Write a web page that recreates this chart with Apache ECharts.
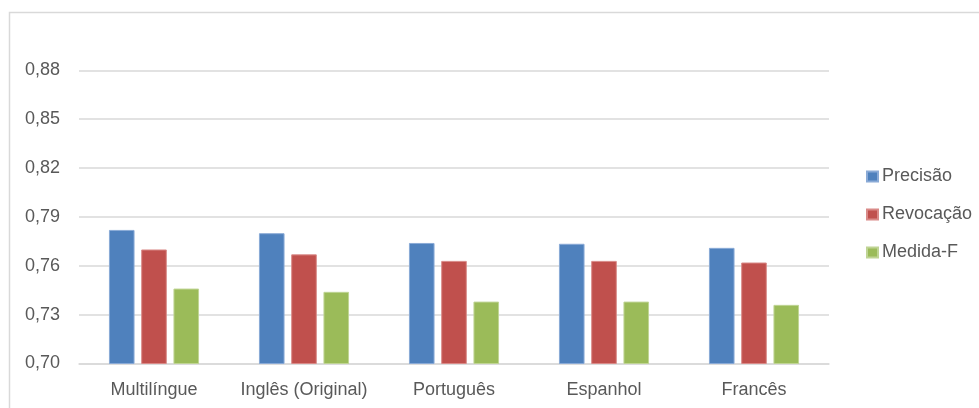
<!DOCTYPE html>
<html>
<head>
<meta charset="utf-8">
<style>
  html, body { margin: 0; padding: 0; background: #ffffff; }
  #chart { width: 979px; height: 408px; }
</style>
<script src="https://cdn.jsdelivr.net/npm/echarts@6/dist/echarts.min.js"></script>
</head>
<body>
<div id="chart"></div>
<script>
// Idiomas avaliados e métricas de cada um
const categories = ['Multilíngue', 'Inglês (Original)', 'Português', 'Espanhol', 'Francês'];
const precisao  = [0.782, 0.780, 0.774, 0.7735, 0.771];
const revocacao = [0.770, 0.767, 0.763, 0.763, 0.762];
const medidaF   = [0.746, 0.744, 0.738, 0.738, 0.736];
const seriesNames = ['Precisão', 'Revocação', 'Medida-F'];

const FONT = "'Liberation Sans', Arial, sans-serif";
const TEXT = '#595959';
const GRID = '#d9d9d9';

const chart = echarts.init(document.getElementById('chart'), null, { renderer: 'canvas' });

function bar(name, data, color, edge) {
  return {
    name: name,
    type: 'bar',
    data: data,
    barWidth: 25.6,
    barGap: '26%',
    itemStyle: { color: color, borderColor: edge, borderWidth: 1 },
    emphasis: { disabled: true }
  };
}

chart.setOption({
  animation: false,
  backgroundColor: '#ffffff',
  textStyle: { fontFamily: FONT },
  graphic: [{
    type: 'rect',
    silent: true,
    shape: { x: 9.5, y: 12.5, width: 1000, height: 500 },
    style: { fill: 'none', stroke: GRID, lineWidth: 1.5 }
  }],
  grid: { left: 79, right: 150, top: 70.3, bottom: 44.5, containLabel: false },
  legend: {
    orient: 'vertical',
    left: 866,
    top: 167.5,
    padding: 0,
    itemWidth: 11,
    itemHeight: 10,
    itemGap: 20,
    icon: 'rect',
    data: seriesNames,
    textStyle: { color: TEXT, fontSize: 18, fontFamily: FONT, lineHeight: 18, padding: [0, 0, 0, -1] }
  },
  xAxis: {
    type: 'category',
    data: categories,
    axisLine: { show: true, lineStyle: { color: GRID, width: 1.5 } },
    axisTick: { show: false },
    axisLabel: { color: TEXT, fontSize: 18, fontFamily: FONT, margin: 18, interval: 0 }
  },
  yAxis: {
    type: 'value',
    min: 0.70,
    max: 0.88,
    interval: 0.03,
    axisLine: { show: false },
    axisTick: { show: false },
    splitLine: { lineStyle: { color: GRID, width: 1.5 } },
    axisLabel: {
      color: TEXT, fontSize: 18, fontFamily: FONT, margin: 19,
      formatter: v => v.toFixed(2).replace('.', ',')
    }
  },
  series: [
    bar(seriesNames[0], precisao,  '#4F81BD', '#8aaad6'),
    bar(seriesNames[1], revocacao, '#C0504D', '#d98a88'),
    bar(seriesNames[2], medidaF,   '#9BBB59', '#bfd494')
  ]
});
</script>
</body>
</html>
